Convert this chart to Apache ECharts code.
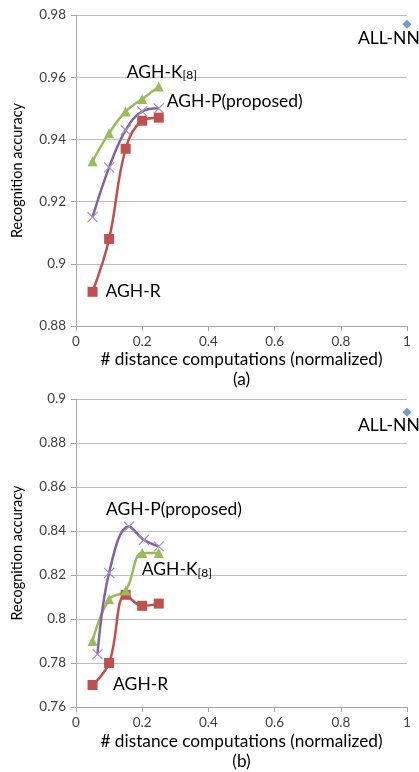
<!DOCTYPE html>
<html><head><meta charset="utf-8">
<script src="https://cdn.jsdelivr.net/npm/echarts@6/dist/echarts.min.js"></script>
<style>html,body{margin:0;padding:0;background:#fff}#c{width:419px;height:772px}</style>
</head><body><div id="c"></div>
<script>
// ---- Data ----
var xTicks = [0, 0.2, 0.4, 0.6, 0.8, 1];
var yTicksA = [0.88, 0.90, 0.92, 0.94, 0.96, 0.98];
var yTicksB = [0.76, 0.78, 0.80, 0.82, 0.84, 0.86, 0.88, 0.90];

var xA = [0.05, 0.10, 0.15, 0.20, 0.25];
var aghR_A = [0.891, 0.908, 0.937, 0.946, 0.947];
var aghK_A = [0.933, 0.942, 0.949, 0.953, 0.957];
var aghP_A = [0.915, 0.931, 0.943, 0.949, 0.950];
var allNN_A = [[1, 0.977]];

var xB = [0.05, 0.10, 0.15, 0.20, 0.25];
var xPB = [0.065, 0.10, 0.16, 0.205, 0.25];
var aghR_B = [0.770, 0.780, 0.811, 0.806, 0.807];
var aghK_B = [0.790, 0.809, 0.813, 0.830, 0.830];
var aghP_B = [0.784, 0.821, 0.842, 0.836, 0.833];
var allNN_B = [[1, 0.894]];

function pairs(xs, ys) { return xs.map(function (x, i) { return [x, ys[i]]; }); }

var RED = '#c0504d', GREEN = '#9bbb59', PURPLE = '#8064a2', BLUE = '#4f81bd';
var FONT = 'Lato, "Open Sans", sans-serif';
var crossPath = 'path://M0,0L10,10M10,0L0,10';

var chart = echarts.init(document.getElementById('c'));

function yAxis(idx, ticks) {
  return {
    type: 'value', gridIndex: idx, min: ticks[0], max: ticks[ticks.length - 1], interval: 0.02,
    name: 'Recognition accuracy', nameLocation: 'middle', nameGap: 51,
    nameTextStyle: { fontFamily: FONT, fontSize: 14.5, color: '#000' },
    axisLine: { show: true, lineStyle: { color: '#a6a6a6', width: 1 } },
    axisTick: { show: true, length: 5, lineStyle: { color: '#a6a6a6' } },
    splitLine: { show: true, lineStyle: { color: '#bfbfbf', width: 1 } },
    axisLabel: { fontFamily: FONT, fontSize: 13.5, color: '#404040', margin: 10,
      formatter: function (v) { return String(+v.toFixed(2)); } }
  };
}
function xAxis(idx, sub, gap) {
  return {
    type: 'value', gridIndex: idx, min: xTicks[0], max: xTicks[xTicks.length - 1], interval: 0.2,
    name: '# distance computations (normalized)\n' + sub, nameLocation: 'middle', nameGap: gap,
    nameTextStyle: { fontFamily: FONT, fontSize: 17.3, color: '#000', lineHeight: 20, verticalAlign: 'top' },
    axisLine: { show: true, onZero: false, lineStyle: { color: '#a6a6a6', width: 1 } },
    axisTick: { show: true, length: 5, lineStyle: { color: '#a6a6a6' } },
    splitLine: { show: false },
    axisLabel: { fontFamily: FONT, fontSize: 13.5, color: '#404040', margin: 9,
      formatter: function (v) { return String(+v.toFixed(1)); } }
  };
}
function lineSeries(idx, name, data, color, symbol, size, extra) {
  var s = {
    type: 'line', name: name, xAxisIndex: idx, yAxisIndex: idx, data: data,
    smooth: 0.4, symbol: symbol, symbolSize: size, showAllSymbol: true,
    lineStyle: { color: color, width: 2.5 },
    itemStyle: { color: color },
    z: 3
  };
  if (extra) Object.assign(s, extra);
  return s;
}
var crossExtra = function () {
  return { itemStyle: { color: 'rgba(0,0,0,0)', borderColor: '#a08fc6', borderWidth: 1.2 } };
};

var option = {
  animation: false,
  grid: [
    { left: 76, top: 15, width: 331, height: 311, containLabel: false },
    { left: 76, top: 399, width: 331, height: 309, containLabel: false }
  ],
  xAxis: [xAxis(0, '(a)', 22), xAxis(1, '(b)', 24)],
  yAxis: [yAxis(0, yTicksA), yAxis(1, yTicksB)],
  series: [
    lineSeries(0, 'AGH-R', pairs(xA, aghR_A), RED, 'rect', 10),
    lineSeries(0, 'AGH-K', pairs(xA, aghK_A), GREEN, 'triangle', 10),
    lineSeries(0, 'AGH-P', pairs(xA, aghP_A), PURPLE, crossPath, 10, crossExtra()),
    { type: 'scatter', xAxisIndex: 0, yAxisIndex: 0, data: allNN_A, symbol: 'diamond', symbolSize: 9, itemStyle: { color: BLUE } },
    lineSeries(1, 'AGH-R', pairs(xB, aghR_B), RED, 'rect', 10),
    lineSeries(1, 'AGH-K', pairs(xB, aghK_B), GREEN, 'triangle', 10),
    lineSeries(1, 'AGH-P', pairs(xPB, aghP_B), PURPLE, crossPath, 10, crossExtra()),
    { type: 'scatter', xAxisIndex: 1, yAxisIndex: 1, data: allNN_B, symbol: 'diamond', symbolSize: 9, itemStyle: { color: BLUE } }
  ]
};
chart.setOption(option);

// ---- Annotations: anchored at data coordinates ----
var annotations = [
  { grid: 0, at: [1, 0.977], dx: -49, dy: 5, rich: 'ALL-NN' },
  { grid: 0, at: [0.25, 0.957], dx: -32, dy: -24, rich: 'AGH-K{s|[8]}' },
  { grid: 0, at: [0.25, 0.950], dx: 8, dy: -16, rich: 'AGH-P(proposed)' },
  { grid: 0, at: [0.05, 0.891], dx: 13, dy: -9, rich: 'AGH-R' },
  { grid: 1, at: [1, 0.894], dx: -49, dy: 4, rich: 'ALL-NN' },
  { grid: 1, at: [0.16, 0.842], dx: -23, dy: -26, rich: 'AGH-P(proposed)' },
  { grid: 1, at: [0.25, 0.830], dx: -17, dy: 7, rich: 'AGH-K{s|[8]}' },
  { grid: 1, at: [0.10, 0.780], dx: 4, dy: 12, rich: 'AGH-R' }
];
var graphics = annotations.map(function (a) {
  var p = chart.convertToPixel({ gridIndex: a.grid }, a.at);
  return {
    type: 'text', x: p[0] + a.dx, y: p[1] + a.dy, z: 10,
    style: {
      text: a.rich, fill: '#000', fontFamily: FONT, fontSize: 17.5,
      rich: { s: { fontSize: 12, fontFamily: FONT, fill: '#000', padding: [7, 0, 0, 0] } }
    }
  };
});
chart.setOption({ graphic: graphics });
</script></body></html>
